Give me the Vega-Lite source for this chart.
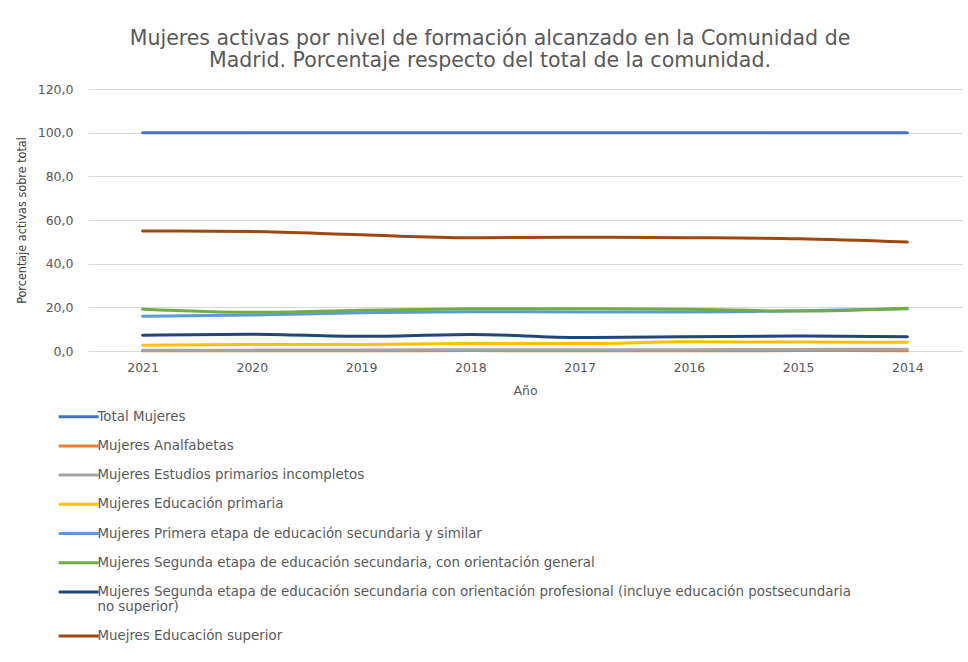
{
  "$schema": "https://vega.github.io/schema/vega-lite/v6.json",
  "autosize": {"type": "none"},
  "width": 874,
  "height": 262,
  "padding": {"left": 88, "top": 89, "right": 6, "bottom": 311},
  "background": "white",
  "title": {
    "text": ["Mujeres activas por nivel de formación alcanzado en la  Comunidad de", "Madrid. Porcentaje respecto del total de la comunidad."],
    "anchor": "middle",
    "frame": "group",
    "dx": -35,
    "offset": 12,
    "font": "DejaVu Sans",
    "fontSize": 20.5,
    "fontWeight": "normal",
    "lineHeight": 22,
    "color": "#595959"
  },
  "data": {
    "values": [
      {"year": "2021", "serie": "Total Mujeres", "value": 100},
      {"year": "2020", "serie": "Total Mujeres", "value": 100},
      {"year": "2019", "serie": "Total Mujeres", "value": 100},
      {"year": "2018", "serie": "Total Mujeres", "value": 100},
      {"year": "2017", "serie": "Total Mujeres", "value": 100},
      {"year": "2016", "serie": "Total Mujeres", "value": 100},
      {"year": "2015", "serie": "Total Mujeres", "value": 100},
      {"year": "2014", "serie": "Total Mujeres", "value": 100},
      {"year": "2021", "serie": "Mujeres Analfabetas", "value": 0.1},
      {"year": "2020", "serie": "Mujeres Analfabetas", "value": 0.1},
      {"year": "2019", "serie": "Mujeres Analfabetas", "value": 0.1},
      {"year": "2018", "serie": "Mujeres Analfabetas", "value": 0.2},
      {"year": "2017", "serie": "Mujeres Analfabetas", "value": 0.1},
      {"year": "2016", "serie": "Mujeres Analfabetas", "value": 0.1},
      {"year": "2015", "serie": "Mujeres Analfabetas", "value": 0.2},
      {"year": "2014", "serie": "Mujeres Analfabetas", "value": 0.1},
      {"year": "2021", "serie": "Mujeres Estudios primarios incompletos", "value": 0.4},
      {"year": "2020", "serie": "Mujeres Estudios primarios incompletos", "value": 0.4},
      {"year": "2019", "serie": "Mujeres Estudios primarios incompletos", "value": 0.5},
      {"year": "2018", "serie": "Mujeres Estudios primarios incompletos", "value": 0.6},
      {"year": "2017", "serie": "Mujeres Estudios primarios incompletos", "value": 0.6},
      {"year": "2016", "serie": "Mujeres Estudios primarios incompletos", "value": 0.6},
      {"year": "2015", "serie": "Mujeres Estudios primarios incompletos", "value": 0.7},
      {"year": "2014", "serie": "Mujeres Estudios primarios incompletos", "value": 0.8},
      {"year": "2021", "serie": "Mujeres Educación primaria", "value": 2.6},
      {"year": "2020", "serie": "Mujeres Educación primaria", "value": 3.0},
      {"year": "2019", "serie": "Mujeres Educación primaria", "value": 3.0},
      {"year": "2018", "serie": "Mujeres Educación primaria", "value": 3.4},
      {"year": "2017", "serie": "Mujeres Educación primaria", "value": 3.4},
      {"year": "2016", "serie": "Mujeres Educación primaria", "value": 4.2},
      {"year": "2015", "serie": "Mujeres Educación primaria", "value": 4.1},
      {"year": "2014", "serie": "Mujeres Educación primaria", "value": 4.0},
      {"year": "2021", "serie": "Mujeres Primera etapa de educación secundaria y similar", "value": 15.9},
      {"year": "2020", "serie": "Mujeres Primera etapa de educación secundaria y similar", "value": 16.5},
      {"year": "2019", "serie": "Mujeres Primera etapa de educación secundaria y similar", "value": 17.5},
      {"year": "2018", "serie": "Mujeres Primera etapa de educación secundaria y similar", "value": 18.0},
      {"year": "2017", "serie": "Mujeres Primera etapa de educación secundaria y similar", "value": 17.9},
      {"year": "2016", "serie": "Mujeres Primera etapa de educación secundaria y similar", "value": 17.9},
      {"year": "2015", "serie": "Mujeres Primera etapa de educación secundaria y similar", "value": 18.4},
      {"year": "2014", "serie": "Mujeres Primera etapa de educación secundaria y similar", "value": 19.3},
      {"year": "2021", "serie": "Mujeres Segunda etapa de educación secundaria, con orientación general", "value": 19.1},
      {"year": "2020", "serie": "Mujeres Segunda etapa de educación secundaria, con orientación general", "value": 17.7},
      {"year": "2019", "serie": "Mujeres Segunda etapa de educación secundaria, con orientación general", "value": 18.7},
      {"year": "2018", "serie": "Mujeres Segunda etapa de educación secundaria, con orientación general", "value": 19.3},
      {"year": "2017", "serie": "Mujeres Segunda etapa de educación secundaria, con orientación general", "value": 19.4},
      {"year": "2016", "serie": "Mujeres Segunda etapa de educación secundaria, con orientación general", "value": 19.1},
      {"year": "2015", "serie": "Mujeres Segunda etapa de educación secundaria, con orientación general", "value": 18.3},
      {"year": "2014", "serie": "Mujeres Segunda etapa de educación secundaria, con orientación general", "value": 19.6},
      {"year": "2021", "serie": "Mujeres Segunda etapa de educación secundaria con orientación profesional (incluye educación postsecundaria no superior)", "value": 7.2},
      {"year": "2020", "serie": "Mujeres Segunda etapa de educación secundaria con orientación profesional (incluye educación postsecundaria no superior)", "value": 7.7},
      {"year": "2019", "serie": "Mujeres Segunda etapa de educación secundaria con orientación profesional (incluye educación postsecundaria no superior)", "value": 6.7},
      {"year": "2018", "serie": "Mujeres Segunda etapa de educación secundaria con orientación profesional (incluye educación postsecundaria no superior)", "value": 7.6},
      {"year": "2017", "serie": "Mujeres Segunda etapa de educación secundaria con orientación profesional (incluye educación postsecundaria no superior)", "value": 6.2},
      {"year": "2016", "serie": "Mujeres Segunda etapa de educación secundaria con orientación profesional (incluye educación postsecundaria no superior)", "value": 6.5},
      {"year": "2015", "serie": "Mujeres Segunda etapa de educación secundaria con orientación profesional (incluye educación postsecundaria no superior)", "value": 6.9},
      {"year": "2014", "serie": "Mujeres Segunda etapa de educación secundaria con orientación profesional (incluye educación postsecundaria no superior)", "value": 6.5},
      {"year": "2021", "serie": "Muejres Educación superior", "value": 55.0},
      {"year": "2020", "serie": "Muejres Educación superior", "value": 54.7},
      {"year": "2019", "serie": "Muejres Educación superior", "value": 53.2},
      {"year": "2018", "serie": "Muejres Educación superior", "value": 51.9},
      {"year": "2017", "serie": "Muejres Educación superior", "value": 52.1},
      {"year": "2016", "serie": "Muejres Educación superior", "value": 51.9},
      {"year": "2015", "serie": "Muejres Educación superior", "value": 51.4},
      {"year": "2014", "serie": "Muejres Educación superior", "value": 49.9}
    ]
  },
  "mark": {"type": "line", "strokeWidth": 3, "interpolate": "monotone", "strokeCap": "round"},
  "encoding": {
    "x": {
      "field": "year",
      "type": "ordinal",
      "sort": "descending",
      "scale": {"type": "point", "padding": 0.5},
      "axis": {
        "title": "Año",
        "labelAngle": 0,
        "domain": false,
        "ticks": false,
        "grid": false,
        "labelPadding": 10,
        "titlePadding": 11,
        "labelFont": "DejaVu Sans",
        "labelFontSize": 12.5,
        "labelColor": "#595959",
        "titleFont": "DejaVu Sans",
        "titleFontSize": 12.5,
        "titleFontWeight": "normal",
        "titleColor": "#595959"
      }
    },
    "y": {
      "field": "value",
      "type": "quantitative",
      "scale": {"domain": [0, 120]},
      "axis": {
        "title": "Porcentaje activas sobre total",
        "values": [0, 20, 40, 60, 80, 100, 120],
        "labelExpr": "replace(format(datum.value, '.1f'), '.', ',')",
        "domain": false,
        "ticks": false,
        "gridColor": "#d9d9d9",
        "gridWidth": 1,
        "labelPadding": 15,
        "titlePadding": 9,
        "labelFont": "DejaVu Sans",
        "labelFontSize": 12.5,
        "labelColor": "#595959",
        "titleFont": "'DejaVu Sans Condensed', Roboto, sans-serif",
        "titleFontSize": 12.5,
        "titleFontWeight": "normal",
        "titleColor": "#404040"
      }
    },
    "color": {
      "field": "serie",
      "type": "nominal",
      "sort": null,
      "scale": {
        "domain": [
          "Total Mujeres",
          "Mujeres Analfabetas",
          "Mujeres Estudios primarios incompletos",
          "Mujeres Educación primaria",
          "Mujeres Primera etapa de educación secundaria y similar",
          "Mujeres Segunda etapa de educación secundaria, con orientación general",
          "Mujeres Segunda etapa de educación secundaria con orientación profesional (incluye educación postsecundaria no superior)",
          "Muejres Educación superior"
        ],
        "range": ["#4472C4", "#ED7D31", "#A5A5A5", "#FFC000", "#5B9BD5", "#70AD47", "#264478", "#9E480E"]
      },
      "legend": {
        "title": null,
        "orient": "none",
        "direction": "vertical",
        "legendX": -16,
        "legendY": 321,
        "symbolType": "M-4,0H4",
        "symbolSize": 100,
        "symbolStrokeWidth": 3,
        "labelOffset": 12,
        "rowPadding": 14.2,
        "labelLimit": 900,
        "labelFont": "DejaVu Sans",
        "labelFontSize": 13.4,
        "labelColor": "#595959",
        "labelExpr": "indexof(datum.label, 'postsecundaria') >= 0 ? ['Mujeres Segunda etapa de educación secundaria con orientación profesional (incluye educación postsecundaria', 'no superior)'] : datum.label"
      }
    }
  },
  "config": {
    "view": {"stroke": null}
  }
}
